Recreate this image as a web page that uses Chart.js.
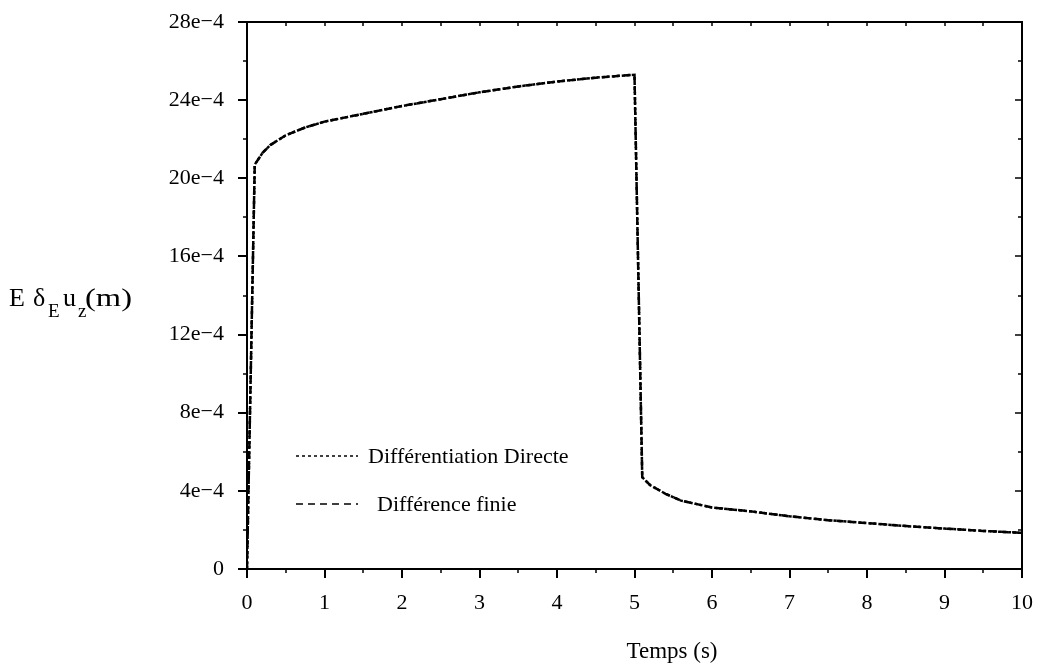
<!DOCTYPE html>
<html>
<head>
<meta charset="utf-8">
<script src="https://cdn.jsdelivr.net/npm/chart.js@4.4.1/dist/chart.umd.min.js"></script>
<style>
  html, body { margin: 0; padding: 0; background: #fff; }
  #wrap { width: 1039px; height: 668px; position: relative; }
</style>
</head>
<body>
<div id="wrap"><canvas id="c" width="1039" height="668"></canvas></div>
<script>
// ---- Data ----
const times = [0, 0.1, 0.2, 0.3, 0.5, 0.75, 1, 1.5, 2, 2.5, 3, 3.5, 4, 4.5, 5, 5.1, 5.2, 5.4, 5.6, 6, 6.5, 7, 7.5, 8, 8.5, 9, 9.5, 10];
const directe = [0, 20.7e-4, 21.3e-4, 21.7e-4, 22.2e-4, 22.6e-4, 22.9e-4, 23.3e-4, 23.7e-4, 24.05e-4, 24.4e-4, 24.7e-4, 24.95e-4, 25.15e-4, 25.3e-4, 4.7e-4, 4.3e-4, 3.85e-4, 3.5e-4, 3.15e-4, 2.95e-4, 2.7e-4, 2.5e-4, 2.35e-4, 2.2e-4, 2.07e-4, 1.95e-4, 1.85e-4];
const finie   = [0, 20.7e-4, 21.3e-4, 21.7e-4, 22.2e-4, 22.6e-4, 22.9e-4, 23.3e-4, 23.7e-4, 24.05e-4, 24.4e-4, 24.7e-4, 24.95e-4, 25.15e-4, 25.3e-4, 4.7e-4, 4.3e-4, 3.85e-4, 3.5e-4, 3.15e-4, 2.95e-4, 2.7e-4, 2.5e-4, 2.35e-4, 2.2e-4, 2.07e-4, 1.95e-4, 1.85e-4];
const seriesNames = ["Différentiation Directe", "Différence finie"];
const xTitle = "Temps (s)";
const yMin = 0, yMax = 28e-4, yStep = 4e-4;
const xMin = 0, xMax = 10, xStep = 1;

const SERIF = "'Liberation Serif', 'DejaVu Serif', serif";

function fmtY(v) {
  const n = Math.round(v * 1e4);
  return n === 0 ? "0" : n + "e\u22124";
}

const decor = {
  id: 'decor',
  afterDraw(chart) {
    const ctx = chart.ctx;
    const xs = chart.scales.x, ys = chart.scales.y;
    const a = chart.chartArea;
    ctx.save();
    ctx.strokeStyle = '#000';
    ctx.fillStyle = '#000';
    // frame top and right
    ctx.lineWidth = 2;
    ctx.beginPath();
    ctx.moveTo(a.left, a.top); ctx.lineTo(a.right, a.top); ctx.lineTo(a.right, a.bottom);
    ctx.stroke();
    // minor ticks
    ctx.lineWidth = 1.5;
    for (let v = yMin + yStep / 2; v < yMax; v += yStep) {
      const py = Math.round(ys.getPixelForValue(v));
      ctx.beginPath(); ctx.moveTo(a.left - 4, py); ctx.lineTo(a.left, py); ctx.stroke();
      ctx.beginPath(); ctx.moveTo(a.right, py); ctx.lineTo(a.right - 4, py); ctx.stroke();
    }
    for (let v = yMin + yStep; v < yMax; v += yStep) {
      const py = Math.round(ys.getPixelForValue(v));
      ctx.beginPath(); ctx.moveTo(a.right, py); ctx.lineTo(a.right - 7, py); ctx.stroke();
    }
    for (let v = xMin + xStep / 2; v < xMax; v += xStep) {
      const px = Math.round(xs.getPixelForValue(v));
      ctx.beginPath(); ctx.moveTo(px, a.bottom); ctx.lineTo(px, a.bottom + 4); ctx.stroke();
    }
    for (let v = xMin + xStep / 2; v < xMax; v += xStep / 2) {
      const px = Math.round(xs.getPixelForValue(v));
      ctx.beginPath(); ctx.moveTo(px, a.top); ctx.lineTo(px, a.top + 4); ctx.stroke();
    }
    // legend
    const legend = [
      { y: 456, dash: [3, 3], name: seriesNames[0], tx: 368 },
      { y: 504, dash: [7, 5], name: seriesNames[1], tx: 377 }
    ];
    ctx.font = "22px " + SERIF;
    ctx.textBaseline = 'middle';
    ctx.textAlign = 'left';
    legend.forEach(l => {
      ctx.setLineDash(l.dash);
      ctx.lineWidth = 1.5;
      ctx.beginPath(); ctx.moveTo(296, l.y); ctx.lineTo(358, l.y); ctx.stroke();
      ctx.setLineDash([]);
      ctx.fillText(l.name, l.tx, l.y + 1);
    });
    // x title
    ctx.font = "23px " + SERIF;
    ctx.textAlign = 'center';
    ctx.textBaseline = 'alphabetic';
    ctx.fillText(xTitle, 672, 658);
    // y title: E δ_E u_z(m)
    ctx.textAlign = 'left';
    const base = 306;
    const big = "26px " + SERIF, small = "19px " + SERIF;
    const parts = [
      ["E", big, 0, 9], ["\u03B4", big, 0, 33], ["E", small, 11, 48], ["u", big, 0, 63], ["z", small, 11, 78]
    ];
    parts.forEach(p => {
      ctx.font = p[1];
      ctx.fillText(p[0], p[3], base + p[2]);
    });
    ctx.font = big;
    const mw = ctx.measureText("(m)").width;
    ctx.translate(85, base);
    ctx.scale(47 / mw, 1);
    ctx.fillText("(m)", 0, 0);
    ctx.restore();
  }
};

const ctx = document.getElementById('c').getContext('2d');
new Chart(ctx, {
  type: 'line',
  data: {
    datasets: [
      {
        label: seriesNames[0],
        data: times.map((t, i) => ({ x: t, y: directe[i] })),
        borderColor: '#000', borderWidth: 2.5, borderDash: [3, 2],
        pointRadius: 0, tension: 0, fill: false
      },
      {
        label: seriesNames[1],
        data: times.map((t, i) => ({ x: t, y: finie[i] })),
        borderColor: '#000', borderWidth: 2.5, borderDash: [7, 4],
        pointRadius: 0, tension: 0, fill: false
      }
    ]
  },
  options: {
    responsive: false,
    animation: false,
    devicePixelRatio: 1,
    layout: { padding: { left: 0, right: 17, top: 22, bottom: 0 } },
    plugins: { legend: { display: false }, tooltip: { enabled: false } },
    scales: {
      x: {
        type: 'linear', min: xMin, max: xMax,
        afterFit(s) { s.height = 99; s.paddingLeft = 0; s.paddingRight = 0; },
        ticks: { stepSize: xStep, color: '#000', font: { family: SERIF, size: 22 }, padding: 12, maxRotation: 0 },
        grid: { drawOnChartArea: false, tickLength: 9, color: '#000', lineWidth: 2 },
        border: { color: '#000', width: 2 }
      },
      y: {
        type: 'linear', min: yMin, max: yMax,
        afterFit(s) { s.width = 247; s.paddingTop = 0; s.paddingBottom = 0; },
        ticks: { stepSize: yStep, color: '#000', font: { family: SERIF, size: 22 }, padding: 14, callback: v => fmtY(v) },
        grid: { drawOnChartArea: false, tickLength: 9, color: '#000', lineWidth: 2 },
        border: { color: '#000', width: 2 }
      }
    }
  },
  plugins: [decor]
});
</script>
</body>
</html>
